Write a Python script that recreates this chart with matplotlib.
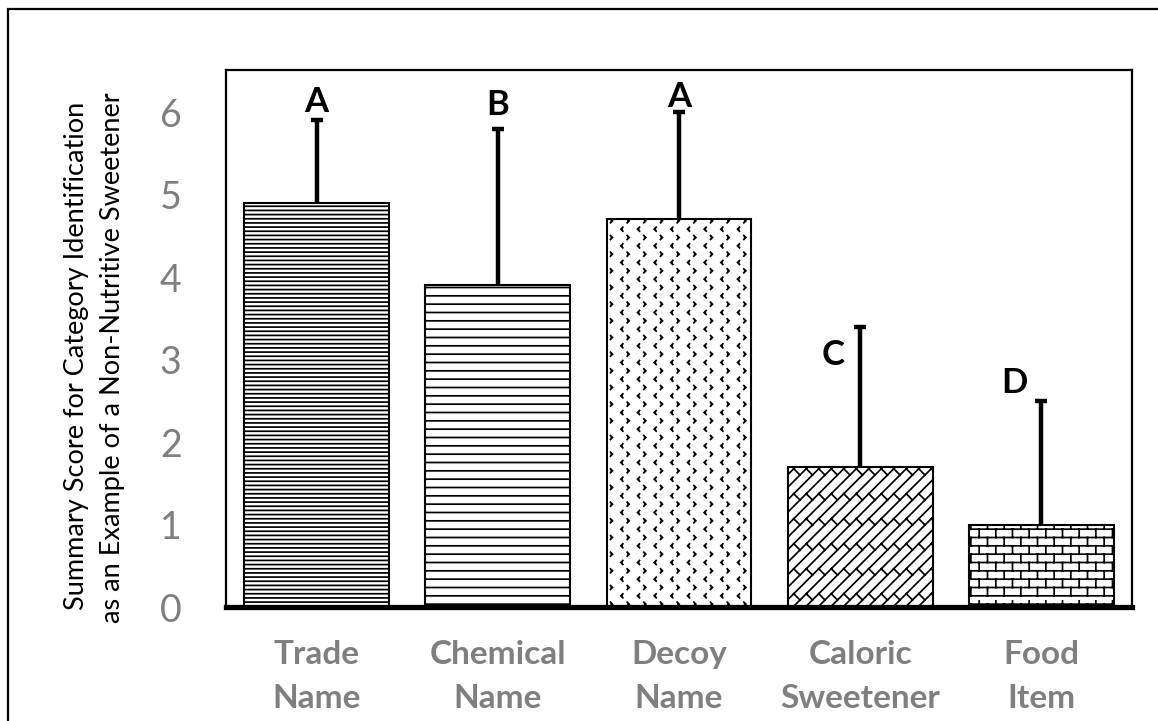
import numpy as np
import matplotlib
matplotlib.use("Agg")
import matplotlib.pyplot as plt
import matplotlib.hatch as mhatch
from matplotlib.path import Path
from matplotlib.patches import Rectangle

# ---------------- data ----------------
categories = ["Trade\nName", "Chemical\nName", "Decoy\nName", "Caloric\nSweetener", "Food\nItem"]
means = [4.9, 3.9, 4.7, 1.7, 1.0]
err_upper = [1.0, 1.9, 1.3, 1.7, 1.5]
letters = ["A", "B", "A", "C", "D"]
letter_y = [6.12, 6.08, 6.18, 3.05, 2.72]
letter_dx = [0.0, 0.0, 0.0, -0.15, -0.15]
yticks = [0, 1, 2, 3, 4, 5, 6]
ylabel_lines = ["Summary Score for Category Identification",
                "as an Example of a Non-Nutritive Sweetener"]


# ---------------- custom hatch patterns ----------------
class _SegHatch(mhatch.HatchPatternBase):
    """Hatch built from a list of polylines (computed in __init__)."""
    key = None

    def __init__(self, hatch, density):
        n = hatch.count(self.key)
        self.polys = self.build(n, density) if n else []
        self.num_vertices = sum(len(p) for p in self.polys)

    def set_vertices_and_codes(self, vertices, codes):
        i = 0
        for poly in self.polys:
            for k, p in enumerate(poly):
                vertices[i] = p
                codes[i] = Path.MOVETO if k == 0 else Path.LINETO
                i += 1


class BrickHatch(_SegHatch):
    key = "*"

    def build(self, n, density):
        rows, cols = int(2 * n * density), int(n * density)
        polys = []
        for r in range(rows):
            y = (r + 0.5) / rows
            polys.append([(0.0, y), (1.0, y)])
            off = 0.5 / cols if r % 2 else 0.0
            for c in range(cols):
                x = (c + 0.25) / cols + off
                polys.append([(x, y), (x, y + 1.0 / rows)])
        return polys


class ChevronHatch(_SegHatch):
    key = "O"

    def build(self, n, density):
        rows, cols = int(2 * n * density), int(n * density)
        s = 0.02
        polys = []
        for r in range(rows):
            y = (r + 0.5) / rows
            for c in range(cols):
                if r % 2 == 0:
                    x = (c + 0.25) / cols
                    polys.append([(x + s, y + s), (x, y), (x + s, y - s)])
                else:
                    x = (c + 0.75) / cols
                    polys.append([(x - s, y + s), (x, y), (x - s, y - s)])
        return polys


class DiagBrickHatch(_SegHatch):
    key = "o"

    def build(self, n, density):
        nl = 8           # diagonal lines per tile
        m = 4            # stubs per tile along each line
        polys = []
        for k in range(-nl - 2, nl + 3):
            c = k / nl
            polys.append([(-0.3, -0.3 + c), (1.3, 1.3 + c)])
            off = 0.5 / m if k % 2 else 0.0
            for j in range(-2, m + 3):
                t = j / m + off
                polys.append([(t, t + c), (t - 0.5 / nl, t + c + 0.5 / nl)])
        return polys


mhatch._hatch_types = [mhatch.HorizontalHatch, mhatch.VerticalHatch,
                       mhatch.NorthEastHatch, mhatch.SouthEastHatch,
                       DiagBrickHatch, ChevronHatch,
                       mhatch.SmallFilledCircles, BrickHatch]

hatches = ["----", "--", "O", "o", "*"]

# ---------------- figure ----------------
plt.rcParams["font.family"] = ["Lato", "DejaVu Sans"]
plt.rcParams["hatch.color"] = "black"
plt.rcParams["hatch.linewidth"] = 1.25

W, H = 1158, 721
fig = plt.figure(figsize=(W / 100, H / 100), dpi=100)
fig.patch.set_facecolor("white")

# outer border (runs off the right and bottom edge)
fig.patches.append(Rectangle((8 / W, -0.05), 1.1, 1 - 9 / H + 0.05,
                             transform=fig.transFigure, fill=False,
                             edgecolor="black", linewidth=1.6))

left, right, top, bottom = 226, 1132, 70, 607
ax = fig.add_axes([left / W, 1 - bottom / H, (right - left) / W, (bottom - top) / H])

x = np.arange(len(categories))
bars = ax.bar(x, means, width=0.8, color="white", edgecolor="black",
              linewidth=1.5, zorder=2)
for b, h in zip(bars, hatches):
    b.set_hatch(h)

tops = np.array(means) + np.array(err_upper)
ax.errorbar(x, means, yerr=[np.zeros(len(means)), err_upper], fmt="none",
            ecolor="black", elinewidth=3.2, capsize=0, zorder=3)
ax.plot(x, tops, linestyle="none", marker="_", markersize=9,
        markeredgewidth=3.2, color="black", zorder=3)

for xi, dx, ly, lt in zip(x, letter_dx, letter_y, letters):
    ax.text(xi + dx, ly, lt, ha="center", va="center", fontsize=25,
            fontweight="bold", color="black", zorder=4)

ax.set_xlim(-0.5, len(categories) - 0.5)
ax.set_ylim(0, 6.51)
ax.set_yticks(yticks)
ax.set_yticklabels([str(t) for t in yticks])
ax.set_xticks(x)
ax.set_xticklabels(categories, fontsize=24, fontweight="bold", color="#7f7f7f",
                   linespacing=1.62)
ax.tick_params(axis="y", length=0, pad=32, labelsize=27, labelcolor="#7f7f7f")
ax.tick_params(axis="x", length=0, pad=24)

for side in ["left", "top", "right"]:
    ax.spines[side].set_linewidth(1.6)
    ax.spines[side].set_color("black")
ax.spines["bottom"].set_linewidth(3.8)
ax.spines["bottom"].set_color("black")
ax.spines["bottom"].set_zorder(5)

fig.text(77 / W, 1 - 356 / H, ylabel_lines[0], rotation=90, ha="center",
         va="center", fontsize=19.5, color="black")
fig.text(113 / W, 1 - 358 / H, ylabel_lines[1], rotation=90, ha="center",
         va="center", fontsize=19.5, color="black")

fig.savefig("out.png", dpi=100, facecolor="white")
